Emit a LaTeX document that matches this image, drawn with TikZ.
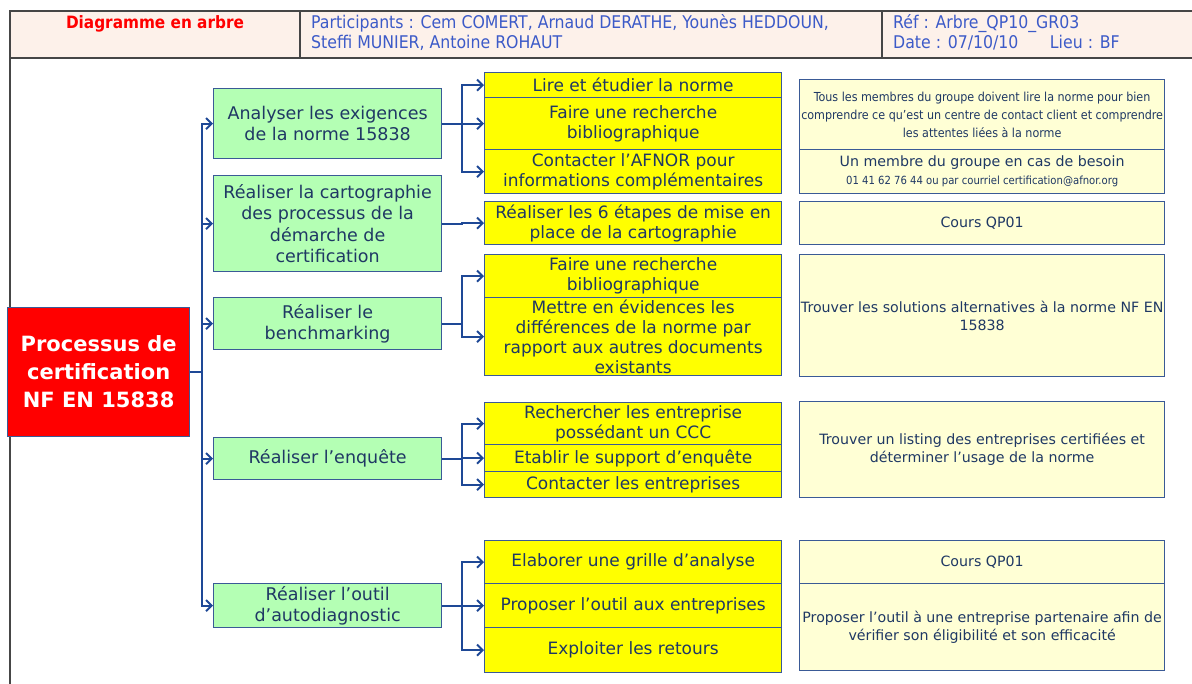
\documentclass[tikz,border=0pt]{standalone}
\usepackage{fontspec}
\setmainfont{DejaVu Sans}
\newfontfamily\condfont{DejaVu Sans Condensed}
\usetikzlibrary{arrows.meta}
\definecolor{boxline}{RGB}{58,90,150}
\definecolor{ink}{RGB}{31,56,100}
\definecolor{connblue}{RGB}{30,72,150}
\definecolor{actgreen}{RGB}{180,255,180}
\definecolor{taskyellow}{RGB}{255,255,0}
\definecolor{notefill}{RGB}{255,255,213}
\definecolor{headfill}{RGB}{253,241,234}
\definecolor{headblue}{RGB}{60,90,200}
\definecolor{headline}{RGB}{70,70,70}
\begin{document}
\begin{tikzpicture}[x=1pt,y=-1pt,
  box/.style={draw=boxline,line width=1.3pt,inner sep=0pt,anchor=north west,align=center,text=ink},
  act/.style={box,fill=actgreen,font=\fontsize{17.5}{21.5}\selectfont},
  task/.style={box,fill=taskyellow,font=\fontsize{17}{20}\selectfont},
  note/.style={box,fill=notefill,font=\fontsize{14.2}{18}\selectfont},
  conn/.style={draw=connblue,line width=2pt,-{Straight Barb[length=5.5pt,width=11pt]}}]
  \useasboundingbox (0,0) rectangle (1192,684);
  \def\cell#1#2#3#4#5#6#7{\node[#1,minimum width=#5pt,minimum height=#6pt] (#2) at (#3,#4) {#7};}
  % Header
  \fill[headfill] (10,11) rectangle (1192,58);
  \draw[headline,line width=1.3pt] (1192,11) -- (10,11) -- (10,684) (10,58) -- (1192,58)
    (300,11) -- (300,58) (882,11) -- (882,58);
  \node[font=\condfont\bfseries\fontsize{17}{20}\selectfont,text=red] (title) at (155,24) {Diagramme en arbre};
  \node[anchor=north west,inner sep=0pt,align=left,text=headblue,font=\condfont\fontsize{17.5}{20}\selectfont] (team) at (311,14)
    {Participants : Cem COMERT, Arnaud DERATHE, Younès HEDDOUN,\\Steffi MUNIER, Antoine ROHAUT};
  \node[anchor=north west,inner sep=0pt,align=left,text=headblue,font=\condfont\fontsize{17.5}{20}\selectfont] (ref) at (893,14)
    {Réf : Arbre\_QP10\_GR03\\Date : 07/10/10\hspace{1.8em}Lieu : BF};
  % Root
  \cell{box,fill=red,text=white,font=\bfseries\fontsize{21}{28}\selectfont}{root}{7}{307}{182}{129}
    {Processus de\\certification\\NF EN 15838}
  % Level 1 : actions
  \cell{act}{a1}{213}{88}{228}{70}{Analyser les exigences\\de la norme 15838}
  \cell{act}{a2}{213}{175}{228}{96}{Réaliser la cartographie\\des processus de la\\démarche de\\certification}
  \cell{act}{a3}{213}{297}{228}{52}{Réaliser le\\benchmarking}
  \cell{act}{a4}{213}{437}{228}{42}{Réaliser l’enquête}
  \cell{act}{a5}{213}{583}{228}{44}{Réaliser l’outil\\d’autodiagnostic}
  % Level 2 : tasks
  \cell{task}{b1}{484}{72}{297}{25}{Lire et étudier la norme}
  \cell{task}{b2}{484}{97}{297}{52}{Faire une recherche\\bibliographique}
  \cell{task}{b3}{484}{149}{297}{44}{Contacter l’AFNOR pour\\informations complémentaires}
  \cell{task}{b4}{484}{201}{297}{43}{Réaliser les 6 étapes de mise en\\place de la cartographie}
  \cell{task}{b5}{484}{254}{297}{43}{Faire une recherche\\bibliographique}
  \cell{task}{b6}{484}{297}{297}{78}{Mettre en évidences les\\différences de la norme par\\rapport aux autres documents\\existants}
  \cell{task}{b7}{484}{402}{297}{42}{Rechercher les entreprise\\possédant un CCC}
  \cell{task}{b8}{484}{444}{297}{27}{Etablir le support d’enquête}
  \cell{task}{b9}{484}{471}{297}{26}{Contacter les entreprises}
  \cell{task}{b10}{484}{540}{297}{43}{Elaborer une grille d’analyse}
  \cell{task}{b11}{484}{583}{297}{44}{Proposer l’outil aux entreprises}
  \cell{task}{b12}{484}{627}{297}{45}{Exploiter les retours}
  % Level 3 : means
  \cell{note,font=\condfont\fontsize{12.4}{18}\selectfont}{c1}{799}{79}{365}{70}
    {Tous les membres du groupe doivent lire la norme pour bien\\comprendre ce qu’est un centre de contact client et comprendre\\les attentes liées à la norme}
  \cell{note}{c2}{799}{149}{365}{44}
    {Un membre du groupe en cas de besoin\\{\condfont\fontsize{11.2}{13}\selectfont 01 41 62 76 44 ou par courriel certification@afnor.org}}
  \cell{note}{c3}{799}{201}{365}{43}{Cours QP01}
  \cell{note}{c4}{799}{254}{365}{122}{Trouver les solutions alternatives à la norme NF EN\\15838}
  \cell{note}{c5}{799}{401}{365}{96}{Trouver un listing des entreprises certifiées et\\déterminer l’usage de la norme}
  \cell{note}{c6}{799}{540}{365}{43}{Cours QP01}
  \cell{note}{c7}{799}{583}{365}{87}{Proposer l’outil à une entreprise partenaire afin de\\vérifier son éligibilité et son efficacité}
  % Connectors
  \foreach \n in {a1,a2,a3,a4,a5}{\draw[conn] (root.east) -- ++(12,0) |- (\n.west);}
  \foreach \s/\d in {a1/b1,a1/b2,a1/b3,a2/b4,a3/b5,a3/b6,a4/b7,a4/b8,a4/b9,a5/b10,a5/b11,a5/b12}
    {\draw[conn] (\s.east) -- ++(20,0) |- (\d.west);}
\end{tikzpicture}
\end{document}
